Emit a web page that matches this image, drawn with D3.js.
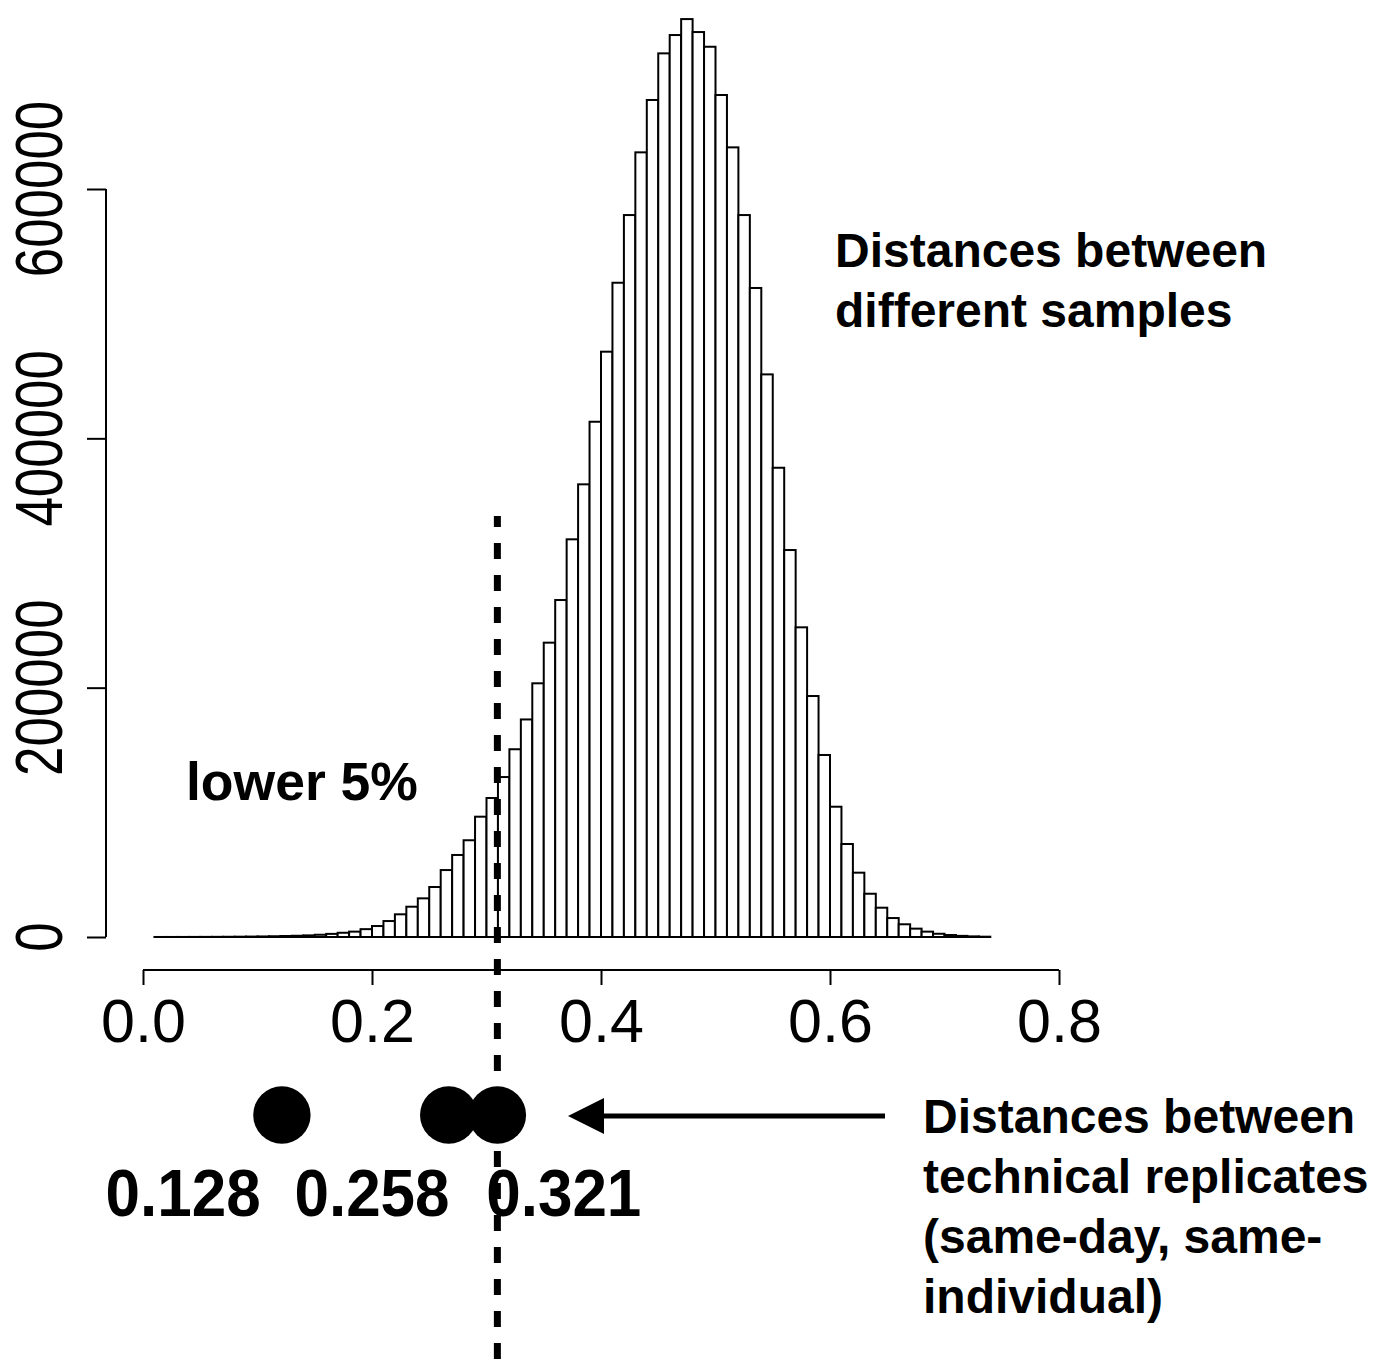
<!DOCTYPE html>
<html>
<head>
<meta charset="utf-8">
<script src="https://cdn.jsdelivr.net/npm/d3@7"></script>
<style>
  html, body { margin: 0; padding: 0; background: #fff; }
  svg { display: block; }
  text { font-family: "Liberation Sans", Arial, Helvetica, sans-serif; fill: #000; }
</style>
</head>
<body>
<svg id="chart" width="1374" height="1360"></svg>
<script>
// ---- data ----
const binStarts = d3.range(1, 74).map(i => i / 100); // 0.01 .. 0.73, width 0.01
const binWidth = 0.01;
const binCounts = [
  20, 30, 40, 60, 90, 130, 180, 250, 340, 450,
  600, 800, 1000, 1300, 1800, 2500, 3400, 4300, 6300, 8800,
  12800, 18200, 24300, 31000, 40100, 53700, 65800, 77600, 96500, 111500,
  128300, 150600, 174500, 203500, 236100, 270300, 319000, 363100, 413300, 469500,
  524800, 579100, 629400, 671400, 708800, 723500, 736300, 725900, 714100, 675400,
  633400, 579100, 520600, 451300, 376400, 310400, 248400, 193300, 146000, 104500,
  74600, 51600, 34700, 23500, 15200, 10200, 6700, 4300, 2600, 1600,
  900, 500, 250
];
const xTicks = [0.0, 0.2, 0.4, 0.6, 0.8];
const xTickLabels = ["0.0", "0.2", "0.4", "0.6", "0.8"];
const yTicks = [0, 200000, 400000, 600000];
const yTickLabels = ["0", "200000", "400000", "600000"];
const cutoff = 0.3095;                       // lower 5% threshold (dashed line)
const replicateValues = [0.1213, 0.267, 0.3095];
const replicateLabels = ["0.128", "0.258", "0.321"];
const replicateLabelX = [0.035, 0.2, 0.3675];
const topLabelLines = ["Distances between", "different samples"];
const rightLabelLines = ["Distances between", "technical replicates", "(same-day, same-", "individual)"];
const lowerLabel = "lower 5%";

// ---- scales ----
const x = d3.scaleLinear().domain([0, 0.8]).range([143, 1059]);
const y = d3.scaleLinear().domain([0, 600000]).range([937, 189]);

const svg = d3.select("#chart");

// histogram bars
svg.append("g").selectAll("rect")
  .data(binStarts.map((s, i) => ({ s, c: binCounts[i] })))
  .join("rect")
  .attr("x", d => x(d.s))
  .attr("width", d => x(d.s + binWidth) - x(d.s))
  .attr("y", d => y(d.c))
  .attr("height", d => y(0) - y(d.c))
  .attr("fill", "#fff")
  .attr("stroke", "#000")
  .attr("stroke-width", 2);

// x axis (offset below)
const xAxis = svg.append("g").attr("transform", "translate(0,970)")
  .call(d3.axisBottom(x).tickValues(xTicks).tickFormat((d, i) => xTickLabels[i]).tickSize(15).tickPadding(14));
xAxis.select(".domain").attr("stroke", "#000").attr("stroke-width", 2).attr("d", `M${x(0)},0H${x(0.8)}`);
xAxis.selectAll(".tick line").attr("stroke", "#000").attr("stroke-width", 2);
xAxis.selectAll(".tick text")
  .attr("font-family", "Liberation Sans, Arial, Helvetica, sans-serif")
  .attr("font-size", 61).attr("fill", "#000")
  .attr("dy", null).attr("y", 72);

// y axis
const yAxis = svg.append("g").attr("transform", "translate(106,0)")
  .call(d3.axisLeft(y).tickValues(yTicks).tickFormat("").tickSize(19));
yAxis.select(".domain").attr("stroke", "#000").attr("stroke-width", 2).attr("d", `M0,${y(0)}V${y(600000)}`);
yAxis.selectAll(".tick line").attr("stroke", "#000").attr("stroke-width", 2);
svg.append("g").selectAll("text")
  .data(yTicks)
  .join("text")
  .attr("transform", d => `translate(62,${y(d)}) rotate(-90) scale(0.79,1)`)
  .attr("text-anchor", "middle")
  .attr("font-size", 67)
  .text((d, i) => yTickLabels[i]);

// dashed cutoff line
svg.append("line")
  .attr("x1", x(cutoff)).attr("x2", x(cutoff))
  .attr("y1", 516).attr("y2", 1360)
  .attr("stroke", "#000").attr("stroke-width", 7)
  .attr("stroke-dasharray", "16,16").attr("stroke-dashoffset", 5);

// replicate points
svg.append("g").selectAll("circle")
  .data(replicateValues)
  .join("circle")
  .attr("cx", d => x(d)).attr("cy", 1115).attr("r", 28.7)
  .attr("fill", "#000");

// replicate labels
svg.append("g").selectAll("text")
  .data(replicateLabels)
  .join("text")
  .attr("x", (d, i) => x(replicateLabelX[i]))
  .attr("y", 1216)
  .attr("text-anchor", "middle")
  .attr("font-size", 62).attr("font-weight", "bold")
  .attr("transform", (d, i) => { const cx = x(replicateLabelX[i]); return `translate(${cx},1216) scale(1,1.08) translate(${-cx},-1216)`; })
  .text(d => d);

// arrow
svg.append("line")
  .attr("x1", 885).attr("x2", 600).attr("y1", 1116).attr("y2", 1116)
  .attr("stroke", "#000").attr("stroke-width", 5);
svg.append("path")
  .attr("d", "M568,1116 L604,1098 L604,1134 Z")
  .attr("fill", "#000");

// annotations
svg.append("text").attr("x", 186).attr("y", 800)
  .attr("font-size", 53.5).attr("font-weight", "bold").text(lowerLabel);

svg.append("g").selectAll("text")
  .data(topLabelLines).join("text")
  .attr("x", 835).attr("y", (d, i) => 267 + i * 60)
  .attr("font-size", 48).attr("font-weight", "bold").text(d => d);

svg.append("g").selectAll("text")
  .data(rightLabelLines).join("text")
  .attr("x", 923).attr("y", (d, i) => 1133 + i * 60)
  .attr("font-size", 48).attr("font-weight", "bold").text(d => d);
</script>
</body>
</html>
